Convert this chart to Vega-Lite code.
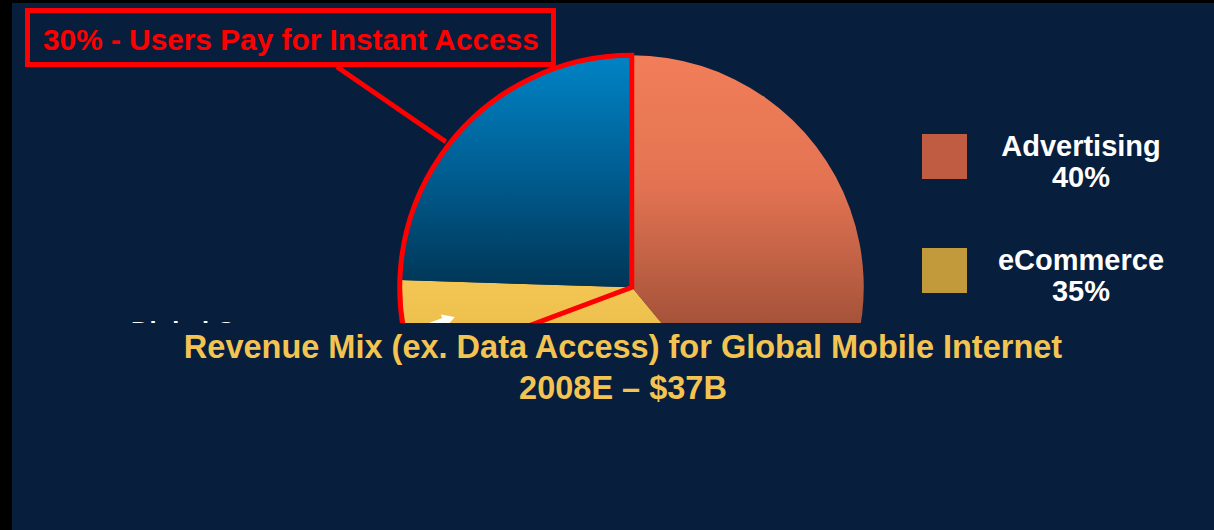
{
  "$schema": "https://vega.github.io/schema/vega-lite/v6.json",
  "background": "#000000",
  "padding": {"left": 12, "top": 3, "right": 0, "bottom": 0},
  "autosize": {"type": "none"},
  "width": 1202,
  "height": 527,
  "config": {"view": {"stroke": null, "fill": "#071E3D"}, "font": "Liberation Sans"},
  "layer": [
    {
      "data": {"values": [
        {"category": "Advertising", "share": 39, "slice_order": 1},
        {"category": "eCommerce", "share": 36.5, "slice_order": 2},
        {"category": "Digital Content", "share": 24.5, "slice_order": 3}
      ]},
      "transform": [
        {"stack": "share", "groupby": [], "sort": [{"field": "slice_order", "order": "ascending"}], "as": ["start", "end"]}
      ],
      "layer": [
        {
          "transform": [{"filter": "datum.category == 'Advertising'"}],
          "mark": {"type": "arc", "radius": 232, "x": {"expr": "width*0.5156"}, "y": {"expr": "height*0.5395"}, "strokeWidth": 0,
            "fill": {"gradient": "linear", "x1": 0, "y1": 0, "x2": 0, "y2": 1, "stops": [
              {"offset": 0, "color": "#F27E59"}, {"offset": 0.32, "color": "#E27352"},
              {"offset": 0.65, "color": "#A6533A"}, {"offset": 1, "color": "#7A3826"}]}},
          "encoding": {
            "theta": {"field": "start", "type": "quantitative", "scale": {"domain": [0, 100]}},
            "theta2": {"field": "end"}
          }
        },
        {
          "transform": [{"filter": "datum.category == 'eCommerce'"}],
          "mark": {"type": "arc", "radius": 232, "x": {"expr": "width*0.5156"}, "y": {"expr": "height*0.5395"}, "strokeWidth": 0,
            "fill": {"gradient": "linear", "x1": 0, "y1": 0, "x2": 0, "y2": 1, "stops": [
              {"offset": 0, "color": "#F4C653"}, {"offset": 0.2, "color": "#EDBF4C"},
              {"offset": 1, "color": "#7D5E22"}]}},
          "encoding": {
            "theta": {"field": "start", "type": "quantitative", "scale": {"domain": [0, 100]}},
            "theta2": {"field": "end"}
          }
        },
        {
          "transform": [{"filter": "datum.category == 'Digital Content'"}],
          "mark": {"type": "arc", "radius": 232, "x": {"expr": "width*0.5156"}, "y": {"expr": "height*0.5395"}, "strokeWidth": 0,
            "fill": {"gradient": "linear", "x1": 0, "y1": 0, "x2": 0, "y2": 1, "stops": [
              {"offset": 0, "color": "#0084C6"}, {"offset": 0.5, "color": "#005E92"},
              {"offset": 1, "color": "#003657"}]}},
          "encoding": {
            "theta": {"field": "start", "type": "quantitative", "scale": {"domain": [0, 100]}},
            "theta2": {"field": "end"}
          }
        },
        {
          "mark": {"type": "square", "opacity": 0, "size": 0},
          "encoding": {
            "color": {
              "field": "category",
              "type": "nominal",
              "scale": {"domain": ["Advertising", "eCommerce", "Digital Content"], "range": ["#BF5C42", "#C29A3C", "#005E92"]},
              "legend": {
                "orient": "none", "legendX": 910, "legendY": 121.5, "direction": "vertical",
                "title": null, "values": ["Advertising", "eCommerce"],
                "symbolType": "M-1,-0.58H1V1.42H-1Z", "symbolSize": 2025, "symbolStrokeWidth": 0, "symbolOpacity": 1,
                "labelFont": "Liberation Sans", "labelFontSize": 29, "labelFontWeight": "bold",
                "labelColor": "#FFFFFF", "labelAlign": "center", "labelOffset": 114, "labelLimit": 400,
                "rowPadding": 45, "padding": 0,
                "labelExpr": "datum.value == 'Advertising' ? ['Advertising', '40%'] : ['eCommerce', '35%']"
              }
            }
          }
        }
      ]
    },
    {
      "data": {"values": [{"label": "Digital Content"}]},
      "layer": [
        {"mark": {"type": "text", "x": 119, "y": 336.8, "align": "left", "baseline": "alphabetic", "font": "Liberation Sans", "fontSize": 25.6, "fontWeight": "bold", "fill": "#FFFFFF"},
         "encoding": {"text": {"field": "label"}}},
        {"mark": {"type": "rule", "stroke": "#FFFFFF", "strokeWidth": 5},
         "encoding": {"x": {"value": 383}, "y": {"value": 335}, "x2": {"value": 432}, "y2": {"value": 317}}},
        {"mark": {"type": "point", "shape": "triangle-right", "filled": true, "fill": "#FFFFFF", "opacity": 1, "size": 200, "angle": -20},
         "encoding": {"x": {"value": 437}, "y": {"value": 316}}}
      ]
    },
    {
      "data": {"values": [{"segment": "Users Pay for Instant Access", "start": 69.3, "end": 100}]},
      "mark": {"type": "arc", "radius": 232, "x": {"expr": "width*0.5156"}, "y": {"expr": "height*0.5395"}, "fillOpacity": 0, "stroke": "#FF0000", "strokeWidth": 5, "strokeJoin": "miter"},
      "encoding": {
        "theta": {"field": "start", "type": "quantitative", "scale": {"domain": [0, 100]}},
        "theta2": {"field": "end"}
      }
    },
    {
      "data": {"values": [{"callout": "30% - Users Pay for Instant Access"}]},
      "layer": [
        {"mark": {"type": "rect", "fillOpacity": 0, "stroke": "#FF0000", "strokeWidth": 5},
         "encoding": {"x": {"value": 15.5}, "y": {"value": 7.5}, "x2": {"value": 541.5}, "y2": {"value": 61.5}}},
        {"mark": {"type": "rule", "stroke": "#FF0000", "strokeWidth": 5},
         "encoding": {"x": {"value": 324.8}, "y": {"value": 63.7}, "x2": {"value": 433.8}, "y2": {"value": 138.7}}},
        {"mark": {"type": "text", "x": 31, "y": 47, "align": "left", "baseline": "alphabetic", "font": "Liberation Sans", "fontSize": 29.8, "fontWeight": "bold", "fill": "#FF0000"},
         "encoding": {"text": {"field": "callout"}}}
      ]
    },
    {
      "data": {"values": [{"region": "slide caption band"}]},
      "mark": {"type": "rect", "x": 0, "x2": {"expr": "width"}, "y": 320, "y2": {"expr": "height"}, "fill": "#071E3D", "strokeWidth": 0},
      "encoding": {}
    },
    {
      "data": {"values": [
        {"line": 1, "title": "Revenue Mix (ex. Data Access) for Global Mobile Internet"},
        {"line": 2, "title": "2008E – $37B"}
      ]},
      "mark": {"type": "text", "font": "Liberation Sans", "fontWeight": "bold", "fontSize": 32.5, "fill": "#F4C452", "baseline": "alphabetic", "align": "center", "dx": 10},
      "encoding": {
        "y": {"field": "line", "type": "ordinal", "axis": null, "scale": {"range": [354.5, 396], "padding": 0}},
        "text": {"field": "title"}
      }
    }
  ]
}
